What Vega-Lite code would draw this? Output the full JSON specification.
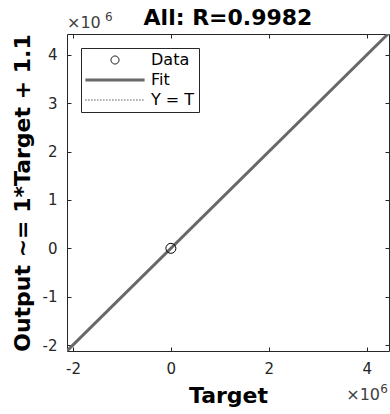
{
  "$schema": "https://vega.github.io/schema/vega-lite/v6.json",
  "width": 322,
  "height": 317,
  "autosize": {"type": "none"},
  "padding": {"left": 67, "top": 34, "right": 1, "bottom": 63},
  "background": "white",
  "title": {"text": "All: R=0.9982", "font": "DejaVu Sans", "fontSize": 22, "fontWeight": "bold", "color": "black", "offset": -19},
  "config": {
    "view": {"stroke": null},
    "axis": {
      "grid": false,
      "domainColor": "#262626",
      "tickColor": "#262626",
      "labelColor": "#262626",
      "labelFont": "DejaVu Sans",
      "labelFontSize": 15,
      "titleFont": "DejaVu Sans",
      "titleFontSize": 22,
      "titleFontWeight": "bold",
      "titleColor": "black",
      "tickSize": -4
    }
  },
  "datasets": {
    "ident": [
      {"Target": -2122000, "Output": -2122000, "series": "Y = T"},
      {"Target": 4455000, "Output": 4455000, "series": "Y = T"}
    ],
    "fit": [
      {"Target": -2122000, "Output": -2121998.9, "series": "Fit"},
      {"Target": 4455000, "Output": 4455001.1, "series": "Fit"}
    ],
    "points": [
      {"Target": 0, "Output": 0, "series": "Data"}
    ],
    "base": [
      {"label": "×10"}
    ],
    "power": [
      {"label": "6"}
    ]
  },
  "layer": [
    {
      "data": {"name": "ident"},
      "mark": {"type": "line", "strokeDash": [1, 2], "strokeWidth": 1, "clip": true},
      "encoding": {
        "x": {
          "field": "Target", "type": "quantitative",
          "scale": {"domain": [-2122000, 4455000], "nice": false, "zero": false},
          "axis": {"orient": "bottom", "values": [-2000000, 0, 2000000, 4000000], "labelExpr": "datum.value/1000000", "title": "Target", "labelPadding": 14, "titlePadding": 9}
        },
        "y": {
          "field": "Output", "type": "quantitative",
          "scale": {"domain": [-2124000, 4434000], "nice": false, "zero": false},
          "axis": {"orient": "left", "values": [-2000000, -1000000, 0, 1000000, 2000000, 3000000, 4000000], "labelExpr": "datum.value/1000000", "title": "Output ~= 1*Target + 1.1", "labelPadding": 14, "titlePadding": 8}
        },
        "color": {
          "field": "series", "type": "nominal",
          "scale": {"domain": ["Data", "Fit", "Y = T"], "range": ["black", "#686868", "black"]},
          "legend": {
            "title": null,
            "orient": "top-left",
            "offset": 14,
            "strokeColor": "#262626",
            "fillColor": "white",
            "padding": 4,
            "labelFont": "DejaVu Sans",
            "labelFontSize": 16,
            "labelColor": "black",
            "symbolSize": 64,
            "labelOffset": 28,
            "rowPadding": 4,
            "symbolOffset": 22,
            "encode": {
              "symbols": {
                "update": {
                  "shape": {"signal": "datum.value === 'Data' ? 'circle' : 'M-7.4,0H7.4'"},
                  "stroke": {"signal": "datum.value === 'Fit' ? '#686868' : 'black'"},
                  "strokeWidth": {"signal": "datum.value === 'Fit' ? 3 : 1"},
                  "strokeDash": {"signal": "datum.value === 'Y = T' ? [1, 2] : [1, 0]"},
                  "fill": {"value": "transparent"},
                  "opacity": {"value": 1}
                }
              }
            }
          }
        }
      }
    },
    {
      "data": {"name": "fit"},
      "mark": {"type": "line", "strokeWidth": 3, "clip": true},
      "encoding": {
        "x": {"field": "Target", "type": "quantitative", "axis": {"orient": "top", "values": [-2000000, 0, 2000000, 4000000], "labels": false, "title": null}},
        "y": {"field": "Output", "type": "quantitative", "axis": {"orient": "right", "values": [-2000000, -1000000, 0, 1000000, 2000000, 3000000, 4000000], "labels": false, "title": null}},
        "color": {"field": "series", "type": "nominal"}
      }
    },
    {
      "data": {"name": "points"},
      "mark": {"type": "point", "filled": false, "size": 100, "strokeWidth": 1, "opacity": 1},
      "encoding": {
        "x": {"field": "Target", "type": "quantitative", "axis": null},
        "y": {"field": "Output", "type": "quantitative", "axis": null},
        "color": {"field": "series", "type": "nominal"}
      }
    },
    {
      "data": {"name": "base"},
      "mark": {"type": "text", "align": "left", "baseline": "alphabetic", "dy": -6, "font": "DejaVu Sans", "fontSize": 16, "color": "#404040"},
      "encoding": {
        "x": {"datum": -2122000, "type": "quantitative", "axis": null},
        "y": {"datum": 4434000, "type": "quantitative", "axis": null},
        "text": {"field": "label"}
      }
    },
    {
      "data": {"name": "power"},
      "mark": {"type": "text", "align": "left", "baseline": "alphabetic", "dx": 38, "dy": -13, "font": "DejaVu Sans", "fontSize": 12, "color": "#404040"},
      "encoding": {
        "x": {"datum": -2122000, "type": "quantitative", "axis": null},
        "y": {"datum": 4434000, "type": "quantitative", "axis": null},
        "text": {"field": "label"}
      }
    },
    {
      "data": {"name": "base"},
      "mark": {"type": "text", "align": "right", "baseline": "alphabetic", "dx": -9, "dy": 49, "font": "DejaVu Sans", "fontSize": 16, "color": "#404040"},
      "encoding": {
        "x": {"datum": 4455000, "type": "quantitative", "axis": null},
        "y": {"datum": -2124000, "type": "quantitative", "axis": null},
        "text": {"field": "label"}
      }
    },
    {
      "data": {"name": "power"},
      "mark": {"type": "text", "align": "right", "baseline": "alphabetic", "dx": -1, "dy": 42, "font": "DejaVu Sans", "fontSize": 12, "color": "#404040"},
      "encoding": {
        "x": {"datum": 4455000, "type": "quantitative", "axis": null},
        "y": {"datum": -2124000, "type": "quantitative", "axis": null},
        "text": {"field": "label"}
      }
    }
  ],
  "resolve": {"axis": {"x": "independent", "y": "independent"}}
}
